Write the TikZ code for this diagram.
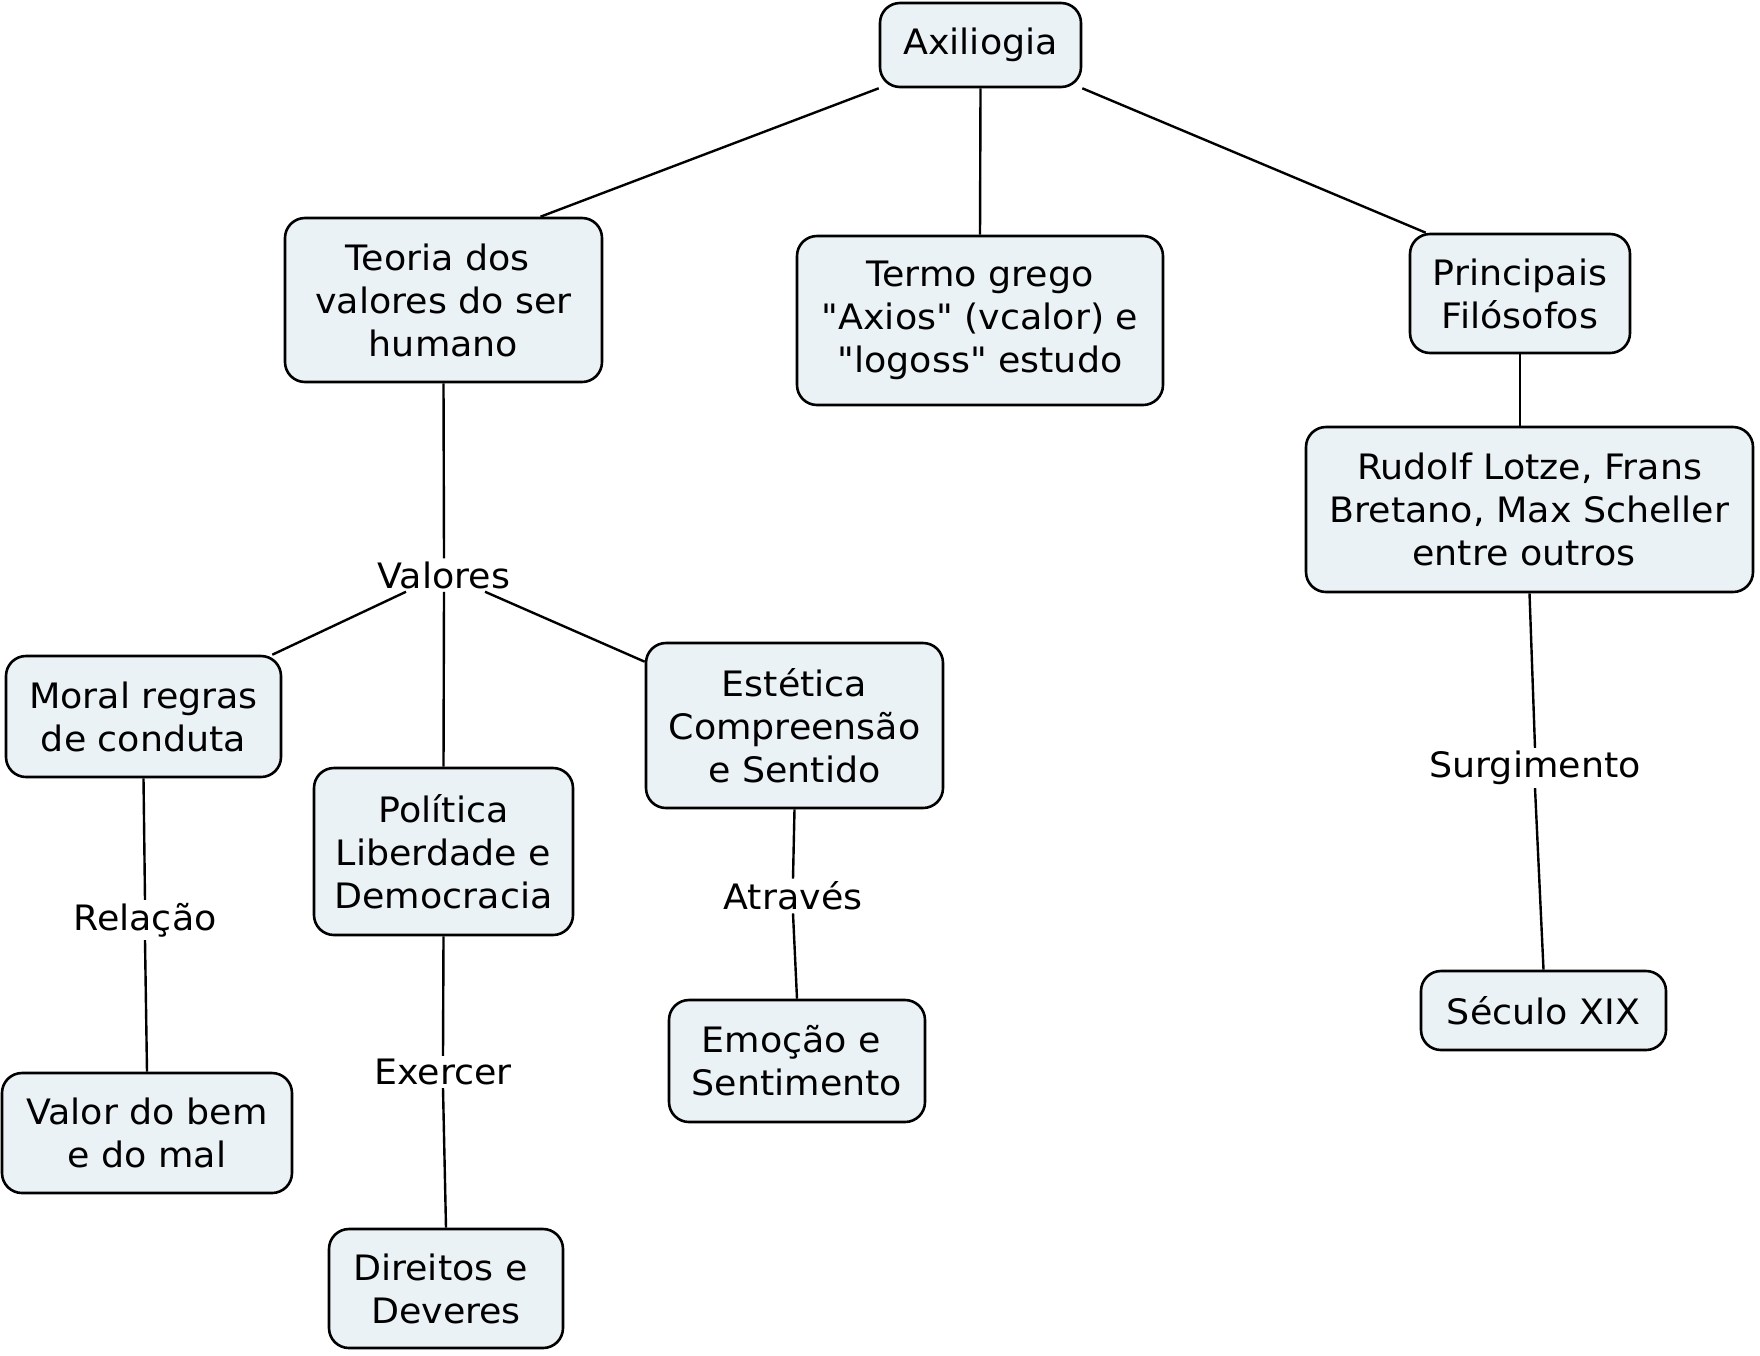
\documentclass[tikz,border=0pt]{standalone}
\usepackage{fontspec}
\setmainfont{DejaVu Sans}[Ligatures=TeXOff, FakeStretch=1.04]
\usetikzlibrary{calc, positioning}
\definecolor{conceptfill}{RGB}{235,242,245}
\newcommand{\tsp}{\hspace*{.32em}}

\begin{document}
\begin{tikzpicture}[x=1pt, y=-1pt,
  concept/.style={draw, line width=2.6pt, rounded corners=20pt, fill=conceptfill,
    align=center, inner sep=0pt, font=\fontsize{35}{43}\selectfont},
  linkword/.style={inner sep=3pt, font=\fontsize{35}{43}\selectfont},
  conn/.style={line width=2.4pt}]
  \useasboundingbox (0,0) rectangle (1760,1355);

  % Concepts
  \node[concept, minimum width=201pt, minimum height=84pt] (axio) at (980.5,45) {Axiliogia};
  \node[concept, minimum width=317pt, minimum height=164pt] (teo) at (443.5,300) {Teoria dos\tsp\\valores do ser\tsp\\humano};
  \node[concept, minimum width=366pt, minimum height=169pt] (termo) at (980,320.5) {Termo grego\\"Axios" (vcalor) e\\"logoss" estudo};
  \node[concept, minimum width=220pt, minimum height=119pt] (princ) at (1520,293.5) {Principais\\Filósofos};
  \node[concept, minimum width=447pt, minimum height=165pt] (rudolf) at (1529.5,509.5) {Rudolf Lotze, Frans\\Bretano, Max Scheller\\entre outros\tsp};
  \node[concept, minimum width=275pt, minimum height=121pt] (mor) at (143.5,716.5) {Moral regras\\de conduta};
  \node[concept, minimum width=259pt, minimum height=167pt] (pol) at (443.5,851.5) {Política\\Liberdade e\\Democracia};
  \node[concept, minimum width=297pt, minimum height=165pt] (est) at (794.5,725.5) {Estética\\Compreensão\\e Sentido};
  \node[concept, minimum width=290pt, minimum height=120pt] (valbem) at (147,1133) {Valor do bem\\e do mal};
  \node[concept, minimum width=234pt, minimum height=119pt] (dir) at (446,1288.5) {Direitos e\tsp\\Deveres};
  \node[concept, minimum width=256pt, minimum height=122pt] (emo) at (797,1061) {Emoção e\tsp\\Sentimento};
  \node[concept, minimum width=245pt, minimum height=79pt] (seculo) at (1543.5,1010.5) {Século XIX};

  % Linking words
  \node[linkword] (valores) at (444,575) {Valores};
  \node[linkword] (relacao) at (145,920) {Relação};
  \node[linkword] (exercer) at (443,1072) {Exercer};
  \node[linkword] (atraves) at (793,896) {Através};
  \node[linkword] (surg) at (1535,768) {Surgimento};

  % Connectors
  \draw[conn] (axio.south west) -- ($(teo.north)+(97pt,0)$);
  \draw[conn] (axio.south) -- (termo.north);
  \draw[conn] (axio.south east) -- ($(princ.north west)+(17pt,0)$);
  \draw[conn] (princ.south) -- (princ.south |- rudolf.north);
  \draw[conn] ($(valores.south)+(-38pt,0)$) -- ($(mor.north east)+(-10pt,0)$);
  \draw[conn] ($(valores.south)+(41pt,0)$) -- ($(est.north west)+(0,-20pt)$);
  \foreach \a/\b in {teo/valores, valores/pol, mor/relacao, relacao/valbem, pol/exercer,
    exercer/dir, est/atraves, atraves/emo, rudolf/surg, surg/seculo} {
    \draw[conn] (\a.south) -- (\b.north);
  }
\end{tikzpicture}
\end{document}
